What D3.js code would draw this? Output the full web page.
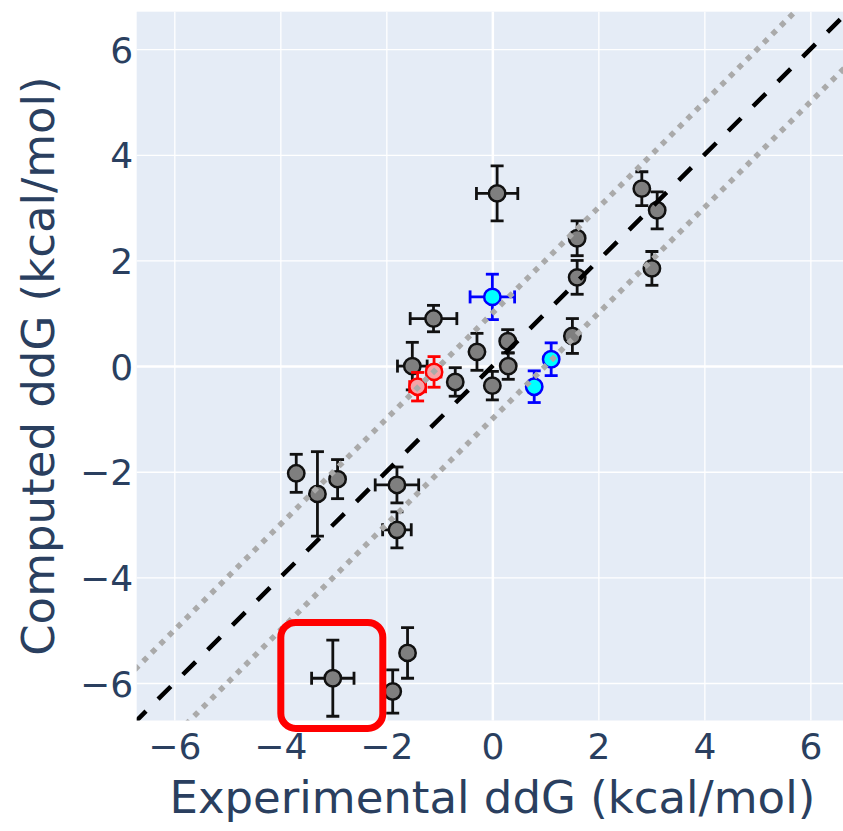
<!DOCTYPE html>
<html>
<head>
<meta charset="utf-8">
<script src="https://cdn.jsdelivr.net/npm/d3@7"></script>
<style>
  html, body { margin: 0; padding: 0; background: #ffffff; }
  svg { display: block; }
</style>
</head>
<body>
<svg id="chart" width="843" height="831"></svg>
<script>
// ---------------- data ----------------
const experimental = [0.09, 0.00, -1.11, -1.51, -1.10, -1.41, -0.29, -0.70, 0.00, 0.29, 0.30,
                      1.11, 0.79, 1.51, 1.60, 1.60, 2.82, 3.11, 3.01,
                      -3.70, -3.30, -2.92, -1.80, -1.80, -3.01, -1.60, -1.88];
const computed     = [3.27, 1.31, 0.90, 0.00, -0.11, -0.39, 0.27, -0.30, -0.37, 0.47, 0.00,
                      0.13, -0.39, 0.57, 2.42, 1.68, 3.36, 2.95, 1.85,
                      -2.03, -2.42, -2.14, -2.25, -3.10, -5.91, -5.43, -6.16];
const experimentalErr = [0.39, 0.42, 0.44, 0.28, 0.13, 0.15, 0, 0, 0, 0, 0,
                         0, 0, 0, 0, 0, 0, 0, 0,
                         0, 0, 0, 0.41, 0.27, 0.40, 0, 0];
const computedErr  = [0.52, 0.43, 0.25, 0.45, 0.29, 0.27, 0.35, 0.27, 0.27, 0.22, 0.25,
                      0.31, 0.30, 0.33, 0.33, 0.32, 0.32, 0.35, 0.32,
                      0.36, 0.80, 0.37, 0.34, 0.34, 0.72, 0.48, 0.41];
const group        = ["grey", "blue", "grey", "grey", "red", "red", "grey", "grey", "grey", "grey", "grey",
                      "blue", "blue", "grey", "grey", "grey", "grey", "grey", "grey",
                      "grey", "grey", "grey", "grey", "grey", "grey", "grey", "grey"];
const highlighted = [24];                    // index of the boxed point
const tickValues = [-6, -4, -2, 0, 2, 4, 6];
const axisRange = [-6.71, 6.71];
const diagonalOffsets = [0, 1, -1];          // y = x, y = x + 1, y = x - 1
const xTitle = "Experimental ddG (kcal/mol)";
const yTitle = "Computed ddG (kcal/mol)";

const groupStyle = {
  grey: { fill: "#7f7f7f", stroke: "#111111", err: "#111111" },
  red:  { fill: "#f4a3a8", stroke: "#ff0000", err: "#ff0000" },
  blue: { fill: "#00ffff", stroke: "#0000ff", err: "#0000ff" }
};

const points = experimental.map((x, i) => ({
  x, y: computed[i], ex: experimentalErr[i], ey: computedErr[i], g: group[i], i
}));

// ---------------- layout ----------------
const svg = d3.select("#chart");
const plot = { left: 136.7, right: 848.0, top: 11.7, bottom: 720.5 };
const textColor = "#2a3f5f";
const fontFamily = "'DejaVu Sans', Verdana, sans-serif";

const x = d3.scaleLinear().domain(axisRange).range([plot.left, plot.right]);
const y = d3.scaleLinear().domain(axisRange).range([plot.bottom, plot.top]);

svg.append("defs").append("clipPath").attr("id", "plotclip")
  .append("rect")
  .attr("x", plot.left).attr("y", plot.top)
  .attr("width", plot.right - plot.left).attr("height", plot.bottom - plot.top);

// background
svg.append("rect")
  .attr("x", plot.left).attr("y", plot.top)
  .attr("width", plot.right - plot.left).attr("height", plot.bottom - plot.top)
  .attr("fill", "#e5ecf6");

// grid via axes
const xGrid = d3.axisBottom(x).tickValues(tickValues).tickSize(-(plot.bottom - plot.top)).tickFormat("");
const yGrid = d3.axisLeft(y).tickValues(tickValues).tickSize(-(plot.right - plot.left)).tickFormat("");

svg.append("g").attr("transform", `translate(0,${plot.bottom})`).call(xGrid)
  .call(g => g.select(".domain").remove())
  .call(g => g.selectAll(".tick line").attr("stroke", "#ffffff")
    .attr("stroke-width", d => d === 0 ? 2.5 : 1.3));
svg.append("g").attr("transform", `translate(${plot.left},0)`).call(yGrid)
  .call(g => g.select(".domain").remove())
  .call(g => g.selectAll(".tick line").attr("stroke", "#ffffff")
    .attr("stroke-width", d => d === 0 ? 2.5 : 1.3));

// tick labels via axes
const fmt = d => (d < 0 ? "\u2212" + Math.abs(d) : String(d));
svg.append("g").attr("transform", `translate(0,${plot.bottom})`)
  .call(d3.axisBottom(x).tickValues(tickValues).tickSize(0).tickPadding(0).tickFormat(fmt))
  .call(g => g.select(".domain").remove())
  .call(g => g.selectAll(".tick text")
    .attr("y", 38.5).attr("dy", null)
    .attr("fill", textColor).attr("font-size", 36).attr("font-family", fontFamily));

svg.append("g").attr("transform", `translate(${plot.left},0)`)
  .call(d3.axisLeft(y).tickValues(tickValues).tickSize(0).tickPadding(0).tickFormat(fmt))
  .call(g => g.select(".domain").remove())
  .call(g => g.selectAll(".tick text")
    .attr("x", -3.5).attr("dy", "0.365em")
    .attr("fill", textColor).attr("font-size", 36).attr("font-family", fontFamily));

// plot content (clipped)
const content = svg.append("g").attr("clip-path", "url(#plotclip)");

// markers & error bars
const cap = 6.5;
const errWidth = 2.8;
const pts = content.append("g");
points.forEach(p => {
  const s = groupStyle[p.g];
  const g = pts.append("g");
  const cx = x(p.x), cy = y(p.y);
  if (p.ey > 0) {
    const y1 = y(p.y + p.ey), y2 = y(p.y - p.ey);
    g.append("line").attr("x1", cx).attr("x2", cx).attr("y1", y1).attr("y2", y2)
      .attr("stroke", s.err).attr("stroke-width", errWidth);
    [y1, y2].forEach(yy => g.append("line")
      .attr("x1", cx - cap).attr("x2", cx + cap).attr("y1", yy).attr("y2", yy)
      .attr("stroke", s.err).attr("stroke-width", errWidth));
  }
  if (p.ex > 0) {
    const x1 = x(p.x - p.ex), x2 = x(p.x + p.ex);
    g.append("line").attr("x1", x1).attr("x2", x2).attr("y1", cy).attr("y2", cy)
      .attr("stroke", s.err).attr("stroke-width", errWidth);
    [x1, x2].forEach(xx => g.append("line")
      .attr("x1", xx).attr("x2", xx).attr("y1", cy - cap).attr("y2", cy + cap)
      .attr("stroke", s.err).attr("stroke-width", errWidth));
  }
  g.append("circle").attr("cx", cx).attr("cy", cy).attr("r", 8.2)
    .attr("fill", s.fill).attr("stroke", s.stroke).attr("stroke-width", 2.5);
});

// diagonal reference lines
const lineGen = d3.line().x(d => x(d[0])).y(d => y(d[1]));
diagonalOffsets.forEach(off => {
  const ends = [[axisRange[0] - 1, axisRange[0] - 1 + off], [axisRange[1] + 1, axisRange[1] + 1 + off]];
  content.append("path").datum(ends).attr("d", lineGen)
    .attr("fill", "none")
    .attr("stroke", off === 0 ? "#000000" : "#aaaaaa")
    .attr("stroke-width", off === 0 ? 4.5 : 5.5)
    .attr("stroke-dasharray", off === 0 ? "18,17" : "5.5,6.5");
});

// highlight box around one point
highlighted.forEach(i => {
  const p = points[i];
  svg.append("rect")
    .attr("x", x(p.x) - 52).attr("y", y(p.y) - 55.8)
    .attr("width", 102).attr("height", 106)
    .attr("rx", 15).attr("ry", 15)
    .attr("fill", "none").attr("stroke", "#ff0000").attr("stroke-width", 7);
});

// axis titles
svg.append("text")
  .attr("x", (plot.left + plot.right) / 2).attr("y", 813)
  .attr("text-anchor", "middle")
  .attr("fill", textColor).attr("font-size", 45).attr("font-family", fontFamily)
  .text(xTitle);

svg.append("text")
  .attr("transform", `translate(54,${(plot.top + plot.bottom) / 2}) rotate(-90)`)
  .attr("text-anchor", "middle")
  .attr("fill", textColor).attr("font-size", 45).attr("font-family", fontFamily)
  .text(yTitle);
</script>
</body>
</html>
